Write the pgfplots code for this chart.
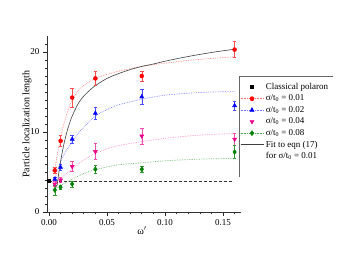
\documentclass[border=0pt]{standalone}
\usepackage{pgfplots}
\pgfplotsset{compat=1.18}
\usepackage{fontspec}
\setmainfont{Liberation Serif}
\definecolor{dgreen}{RGB}{0,128,0}
\begin{document}
\begin{tikzpicture}
\path[use as bounding box] (0pt,0pt) rectangle (350pt,263pt);
\begin{axis}[
  at={(47pt,51pt)}, anchor=south west,
  scale only axis, width=194pt, height=176pt,
  xmin=-0.0017, xmax=0.1655, ymin=0, ymax=22,
  axis line style={draw=none},
  clip=false,
  xtick pos=bottom, ytick pos=left,
  xtick={0,0.05,0.1,0.15}, xticklabels={0.00,0.05,0.10,0.15},
  ytick={0,10,20}, yticklabels={0,10,20},
  minor xtick={0.01,0.02,0.03,0.04,0.06,0.07,0.08,0.09,0.11,0.12,0.13,0.14,0.16},
  minor ytick={1,2,3,4,5,6,7,8,9,11,12,13,14,15,16,17,18,19,21},
  tick align=outside, major tick length=4pt, minor tick length=2.2pt,
  every tick/.style={black!85, line width=0.6pt},
  tick label style={font=\fontsize{9}{10}\selectfont},
  xlabel={ω$'$}, ylabel={Particle localization length},
  label style={font=\fontsize{10}{12}\selectfont},
  xlabel style={at={(axis description cs:0.49,0)}, anchor=north, yshift=-11pt},
  ylabel style={at={(axis description cs:0,0.5)}, anchor=south, yshift=12pt},
  legend style={at={(0.9897,0.7727)}, anchor=north west, draw=none, fill=none,
    font=\fontsize{9}{11}\selectfont, row sep=0pt, inner sep=1pt, yshift=-4pt},
  legend cell align=left,
  legend image code/.code={\draw[mark repeat=2,mark phase=2,#1] plot coordinates {(0pt,0pt) (11.5pt,0pt) (23pt,0pt)};},
  error bars/error bar style={line width=0.5pt},
  error bars/error mark options={rotate=90, mark size=1.8pt, line width=0.5pt},
]
% legend
\addlegendimage{only marks, mark=square*, black, mark size=1.6pt}
\addlegendentry{Classical polaron}
\addlegendimage{red!55, densely dotted, line width=0.6pt, mark=*, mark size=2pt, mark options={solid, draw=red, fill=red}}
\addlegendentry{σ/t\textsubscript{0} = 0.01}
\addlegendimage{blue!55, densely dotted, line width=0.6pt, mark=triangle*, mark size=2.4pt, mark options={solid, draw=blue, fill=blue}}
\addlegendentry{σ/t\textsubscript{0} = 0.02}
\addlegendimage{only marks, mark=triangle*, mark size=2.4pt, mark options={rotate=180, draw=magenta, fill=magenta}}
\addlegendentry{σ/t\textsubscript{0} = 0.04}
\addlegendimage{dgreen!70, densely dotted, line width=0.6pt, mark=diamond*, mark size=2.4pt, mark options={solid, draw=dgreen, fill=dgreen}}
\addlegendentry{σ/t\textsubscript{0} = 0.08}
\addlegendimage{black!75, solid, line width=0.6pt}
\addlegendentry{Fit to eqn (17)}
\addlegendimage{empty legend}
\addlegendentry{for σ/t\textsubscript{0} = 0.01}

% axis lines (left and bottom only)
\draw[black!80, line width=0.6pt] (axis description cs:0,1) -- (axis description cs:0,0) -- (axis description cs:1,0);

% classical polaron line
\addplot[forget plot, black!80, densely dashed, line width=0.6pt] coordinates {(0,3.9) (0.158,3.9)};
\addplot[forget plot, only marks, mark=square*, black, mark size=1.6pt] coordinates {(0,3.9)};

% fit curves (dotted)
\addplot[forget plot, red!50, densely dotted, line width=0.7pt, smooth] coordinates {
(0.005,5.3) (0.0075,7.4) (0.010,9.2) (0.0125,10.8) (0.015,12.1) (0.0175,13.2) (0.020,14.0)
(0.025,15.1) (0.030,15.8) (0.040,16.7) (0.050,17.2) (0.060,17.6) (0.080,18.2) (0.100,18.6)
(0.120,18.95) (0.140,19.2) (0.160,19.4)};
\addplot[forget plot, blue!50, densely dotted, line width=0.7pt, smooth] coordinates {
(0.005,4.2) (0.0075,5.3) (0.010,6.3) (0.015,7.7) (0.020,8.8) (0.025,9.8) (0.030,10.6)
(0.040,12.0) (0.050,12.8) (0.060,13.4) (0.080,14.1) (0.100,14.6) (0.120,14.85) (0.140,15.0) (0.160,15.05)};
\addplot[forget plot, magenta!45, densely dotted, line width=0.7pt, smooth] coordinates {
(0.005,3.5) (0.010,4.1) (0.015,4.8) (0.020,5.4) (0.030,6.5) (0.040,7.3) (0.050,7.9)
(0.060,8.3) (0.080,8.8) (0.100,9.2) (0.120,9.5) (0.140,9.7) (0.160,9.8)};
\addplot[forget plot, dgreen!55, densely dotted, line width=0.7pt, smooth] coordinates {
(0.005,2.9) (0.010,3.3) (0.020,4.1) (0.030,4.8) (0.040,5.3) (0.060,5.9) (0.080,6.15)
(0.100,6.4) (0.120,6.55) (0.140,6.65) (0.160,6.7)};

% fit to eqn (17)
\addplot[forget plot, black!75, line width=0.6pt, smooth] coordinates {
(0.007,3.3) (0.008,4.4) (0.009,5.4) (0.010,6.3) (0.012,7.9) (0.014,9.2) (0.016,10.3)
(0.018,11.2) (0.020,12.0) (0.025,13.5) (0.030,14.5) (0.035,15.2) (0.040,15.8) (0.050,16.7)
(0.060,17.3) (0.070,17.8) (0.080,18.2) (0.090,18.5) (0.100,18.85) (0.115,19.3) (0.130,19.7)
(0.145,20.05) (0.160,20.35)};

% data with error bars
\addplot[forget plot, only marks, mark=*, mark size=2pt, draw=red, fill=red,
  error bars/.cd, y dir=both, y explicit, error bar style={red!70}, error mark options={red!70, rotate=90, mark size=1.8pt}]
coordinates {(0.005,5.2) +- (0,0.4) (0.010,8.9) +- (0,0.7) (0.020,14.3) +- (0,1.2)
(0.040,16.7) +- (0,0.9) (0.080,17.0) +- (0,0.6) (0.160,20.3) +- (0,1.0)};
\addplot[forget plot, only marks, mark=triangle*, mark size=2.4pt, draw=blue, fill=blue,
  error bars/.cd, y dir=both, y explicit, error bar style={blue!70}, error mark options={blue!70, rotate=90, mark size=1.8pt}]
coordinates {(0.005,4.1) +- (0,0.3) (0.010,5.6) +- (0,0.4) (0.020,9.1) +- (0,0.5)
(0.040,12.35) +- (0,0.8) (0.080,14.4) +- (0,0.9) (0.160,13.3) +- (0,0.6)};
\addplot[forget plot, only marks, mark=triangle*, mark size=2.4pt, mark options={rotate=180}, draw=magenta, fill=magenta,
  error bars/.cd, y dir=both, y explicit, error bar style={magenta!70}, error mark options={magenta!70, rotate=90, mark size=1.8pt}]
coordinates {(0.005,3.5) +- (0,0.3) (0.010,4.0) +- (0,0.3) (0.020,5.7) +- (0,0.6)
(0.040,7.55) +- (0,1.0) (0.080,9.5) +- (0,1.0) (0.160,9.1) +- (0,0.7)};
\addplot[forget plot, only marks, mark=diamond*, mark size=2.4pt, draw=dgreen, fill=dgreen,
  error bars/.cd, y dir=both, y explicit, error bar style={dgreen!80}, error mark options={dgreen!80, rotate=90, mark size=1.8pt}]
coordinates {(0.005,2.75) +- (0,0.6) (0.010,3.1) +- (0,0.3) (0.020,3.5) +- (0,0.4)
(0.040,5.35) +- (0,0.5) (0.080,5.35) +- (0,0.4) (0.160,7.5) +- (0,0.8)};

% legend frame (top and left only)
\draw[black!60, line width=0.6pt] (axis description cs:0.9897,0.199) -- (axis description cs:0.9897,0.7727) -- (axis description cs:1.474,0.7727);
\end{axis}
\end{tikzpicture}
\end{document}
